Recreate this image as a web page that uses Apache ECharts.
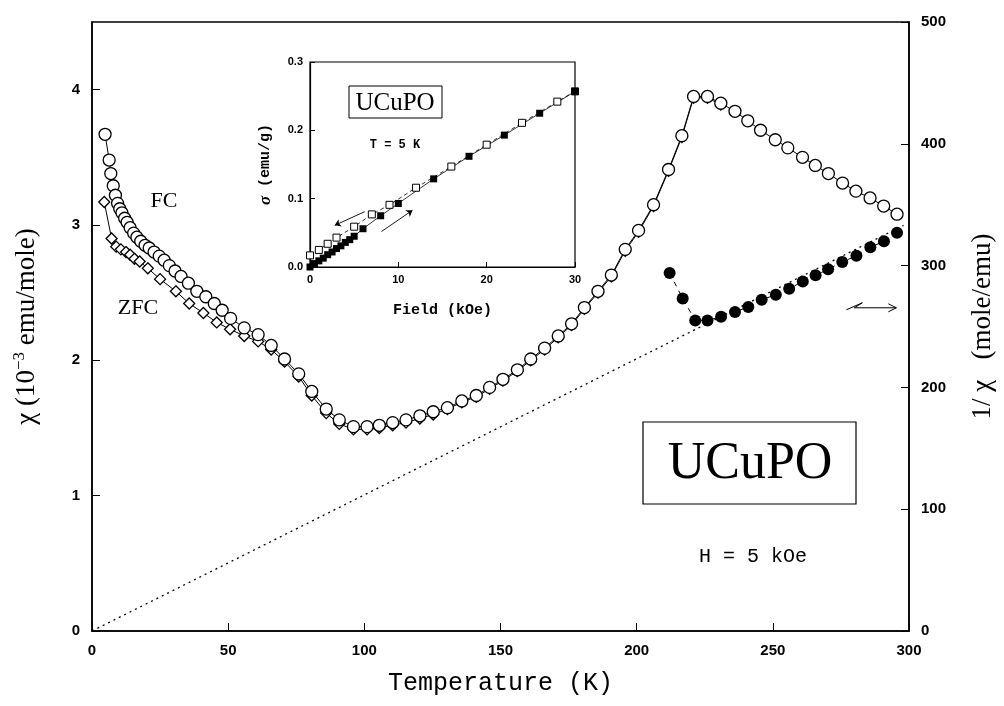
<!DOCTYPE html>
<html>
<head>
<meta charset="utf-8">
<script src="https://cdn.jsdelivr.net/npm/echarts@6/dist/echarts.min.js"></script>
<style>
html, body { margin: 0; background: #fff; }
#chart { width: 1004px; height: 706px; }
</style>
</head>
<body>
<div id="chart"></div>
<script>
// FC susceptibility (10^-3 emu/mole) vs temperature (K)
var fcT = [4.8, 6.3, 6.9, 7.8, 8.6, 9.4, 10.2, 11.0, 12.0, 12.9, 14.0, 15.3, 16.5, 17.9, 19.5, 21.0, 22.8, 24.7,
  26.5, 28.4, 30.5, 32.7, 35.4, 38.5, 41.8, 44.9, 47.8, 50.9, 55.9, 61.0, 65.8, 70.7, 75.9, 80.7, 86.0, 90.8,
  96.0, 101.0, 105.5, 110.4, 115.3, 120.4, 125.3, 130.5, 135.8, 141.1, 146.0, 150.9, 156.2, 161.1, 166.2,
  171.2, 176.1, 180.8, 185.8, 190.7, 195.8, 200.7, 206.2, 211.7, 216.6, 220.9, 226.0, 230.9, 236.1, 240.8,
  245.5, 250.9, 255.5, 260.9, 265.6, 270.4, 275.6, 280.5, 285.7, 290.7, 295.6];
var fcChi = [3.67, 3.48, 3.38, 3.29, 3.22, 3.16, 3.12, 3.09, 3.05, 3.02, 2.98, 2.94, 2.91, 2.88, 2.85, 2.83, 2.80, 2.77,
  2.74, 2.70, 2.66, 2.62, 2.57, 2.51, 2.47, 2.42, 2.37, 2.31, 2.24, 2.19, 2.11, 2.01, 1.90, 1.77, 1.64, 1.56,
  1.51, 1.51, 1.52, 1.54, 1.56, 1.59, 1.62, 1.65, 1.70, 1.74, 1.80, 1.86, 1.93, 2.01, 2.09,
  2.18, 2.27, 2.39, 2.51, 2.63, 2.82, 2.96, 3.15, 3.41, 3.66, 3.95, 3.95, 3.90, 3.84, 3.77,
  3.70, 3.63, 3.57, 3.50, 3.44, 3.38, 3.31, 3.25, 3.20, 3.14, 3.08];

// ZFC susceptibility
var zfcT = [4.5, 7.2, 8.9, 10.6, 12.5, 14.0, 15.6, 17.5, 20.5, 25.0, 30.8, 35.7, 40.9, 45.8, 50.7, 55.9, 61.0,
  65.8, 70.7, 75.9, 80.7, 86.0, 90.8, 96.0, 101.0, 105.5, 110.4, 115.3, 120.4, 125.3, 130.5, 135.8, 141.1,
  146.0, 150.9, 156.2, 161.1, 166.2, 171.2, 176.1, 180.8, 185.8, 190.7, 195.8, 200.7, 206.2, 211.7, 216.6,
  220.9, 226.0, 230.9];
var zfcChi = [3.17, 2.90, 2.84, 2.82, 2.80, 2.78, 2.75, 2.73, 2.68, 2.60, 2.51, 2.42, 2.35, 2.28, 2.23, 2.18, 2.14,
  2.08, 1.99, 1.88, 1.74, 1.61, 1.53, 1.49, 1.49, 1.50, 1.52, 1.54, 1.57, 1.60, 1.64, 1.69, 1.73,
  1.79, 1.85, 1.92, 2.00, 2.08, 2.17, 2.26, 2.38, 2.50, 2.62, 2.81, 2.95, 3.14, 3.40, 3.65,
  3.94, 3.94, 3.89];

// inverse susceptibility (mole/emu), right axis
var invT = [212.1, 216.9, 221.5, 226.0, 231.0, 236.1, 241.0, 245.9, 251.1, 256.0, 261.0, 265.7, 270.3, 275.5,
  280.7, 285.8, 290.8, 295.6];
var invChi = [294, 273, 255, 255, 258, 262, 266, 272, 276, 281, 287, 292, 297, 303, 308, 315, 320, 327];

// Curie-Weiss line (dotted)
var fitT = [0, 298];
var fitR = [0, 333];

// inset: magnetisation at 5 K
var upField = [0, 0.5, 1, 1.5, 2, 2.5, 3, 3.5, 4, 4.5, 5, 6, 8, 10, 14, 18, 22, 26, 30];
var upSigma = [0.000, 0.005, 0.009, 0.013, 0.018, 0.022, 0.027, 0.031, 0.036, 0.040, 0.045, 0.056, 0.075,
  0.093, 0.129, 0.162, 0.193, 0.225, 0.257];
var downField = [30, 28, 24, 20, 16, 12, 9, 7, 5, 3, 2, 1, 0];
var downSigma = [0.257, 0.242, 0.211, 0.179, 0.147, 0.116, 0.091, 0.077, 0.059, 0.043, 0.034, 0.025, 0.017];

function zip(a, b) {
  return a.map(function (v, i) { return [v, b[i]]; });
}

var black = '#000';
var tickFont = { color: black, fontFamily: 'Liberation Sans', fontWeight: 'bold', fontSize: 15 };
var insetFont = { color: black, fontFamily: 'Liberation Sans', fontWeight: 'bold', fontSize: 11 };

var chart = echarts.init(document.getElementById('chart'));

chart.setOption({
  animation: false,
  backgroundColor: '#fff',
  grid: [
    { left: 92, right: 92, top: 22, bottom: 75, show: true, borderColor: black, borderWidth: 1.5 },
    { left: 310, top: 62, width: 265, height: 205, show: true, borderColor: black, borderWidth: 1.2,
      backgroundColor: '#fff' }
  ],
  xAxis: [
    {
      type: 'value', gridIndex: 0, min: 0, max: 300, interval: 50,
      name: 'Temperature (K)', nameLocation: 'middle', nameGap: 40,
      nameTextStyle: { color: black, fontFamily: 'Liberation Mono', fontSize: 25 },
      axisLine: { lineStyle: { color: black, width: 1.5 } },
      axisTick: { inside: true, length: 8, lineStyle: { color: black } },
      axisLabel: Object.assign({ margin: 12 }, tickFont),
      splitLine: { show: false }
    },
    {
      type: 'value', gridIndex: 1, min: 0, max: 30, interval: 10,
      name: 'Field (kOe)', nameLocation: 'middle', nameGap: 36,
      nameTextStyle: { color: black, fontFamily: 'Liberation Mono', fontWeight: 'bold', fontSize: 15 },
      axisLine: { lineStyle: { color: black, width: 1.2 } },
      axisTick: { inside: true, length: 5, lineStyle: { color: black } },
      axisLabel: Object.assign({ margin: 7 }, insetFont),
      splitLine: { show: false }
    }
  ],
  yAxis: [
    {
      type: 'value', gridIndex: 0, position: 'left', min: 0, max: 4.5, interval: 1,
      name: '{t|χ (10}{s|−3}{t| emu/mole)}', nameLocation: 'middle', nameGap: 50, nameRotate: 90,
      nameTextStyle: {
        rich: {
          t: { color: black, fontFamily: 'Liberation Serif', fontSize: 27 },
          s: { color: black, fontFamily: 'Liberation Serif', fontSize: 17, verticalAlign: 'top', padding: [0, 0, 14, 0] }
        }
      },
      axisLine: { lineStyle: { color: black, width: 1.5 } },
      axisTick: { inside: true, length: 8, lineStyle: { color: black } },
      axisLabel: Object.assign({ margin: 12, showMaxLabel: false }, tickFont),
      splitLine: { show: false }
    },
    {
      type: 'value', gridIndex: 0, position: 'right', min: 0, max: 500, interval: 100,
      name: '1/ χ   (mole/emu)', nameLocation: 'middle', nameGap: 60, nameRotate: 90,
      nameTextStyle: { color: black, fontFamily: 'Liberation Serif', fontSize: 27 },
      axisLine: { show: true, lineStyle: { color: black, width: 1.5 } },
      axisTick: { show: true, inside: true, length: 8, lineStyle: { color: black } },
      axisLabel: Object.assign({ margin: 12 }, tickFont),
      splitLine: { show: false }
    },
    {
      type: 'value', gridIndex: 1, min: 0, max: 0.3, interval: 0.1,
      name: '{g|σ} (emu/g)', nameLocation: 'middle', nameGap: 36, nameRotate: 90,
      nameTextStyle: {
        color: black, fontFamily: 'Liberation Mono', fontWeight: 'bold', fontSize: 15,
        rich: { g: { color: black, fontFamily: 'Liberation Serif', fontStyle: 'italic', fontSize: 17 } }
      },
      axisLine: { lineStyle: { color: black, width: 1.2 } },
      axisTick: { inside: true, length: 5, lineStyle: { color: black } },
      axisLabel: Object.assign({ margin: 7, formatter: function (v) { return v.toFixed(1); } }, insetFont),
      splitLine: { show: false }
    }
  ],
  series: [
    {
      name: 'fit', type: 'line', xAxisIndex: 0, yAxisIndex: 1,
      data: zip(fitT, fitR), symbol: 'none', silent: true,
      lineStyle: { color: black, width: 1.3, type: [2, 4] }
    },
    {
      name: '1/chi', type: 'line', xAxisIndex: 0, yAxisIndex: 1,
      data: zip(invT, invChi), symbol: 'circle', symbolSize: 12,
      itemStyle: { color: black },
      lineStyle: { color: black, width: 1, type: [5, 5] }
    },
    {
      name: 'ZFC', type: 'line', xAxisIndex: 0, yAxisIndex: 0,
      data: zip(zfcT, zfcChi), symbol: 'diamond', symbolSize: 11,
      itemStyle: { color: '#fff', borderColor: black, borderWidth: 1.3 },
      lineStyle: { color: black, width: 1 }
    },
    {
      name: 'ZFC dot', type: 'scatter', xAxisIndex: 0, yAxisIndex: 0,
      data: zip(zfcT, zfcChi), symbolSize: 2, itemStyle: { color: black }
    },
    {
      name: 'FC', type: 'line', xAxisIndex: 0, yAxisIndex: 0,
      data: zip(fcT, fcChi), symbol: 'circle', symbolSize: 12,
      itemStyle: { color: '#fff', borderColor: black, borderWidth: 1.3 },
      lineStyle: { color: black, width: 1 }
    },
    {
      name: 'FC dot', type: 'scatter', xAxisIndex: 0, yAxisIndex: 0,
      data: zip(fcT, fcChi), symbolSize: 2, itemStyle: { color: black }
    },
    {
      name: 'down', type: 'line', xAxisIndex: 1, yAxisIndex: 2,
      data: zip(downField, downSigma), symbol: 'rect', symbolSize: 7,
      itemStyle: { color: '#fff', borderColor: black, borderWidth: 1 },
      lineStyle: { color: black, width: 0.8, type: [4, 3] }
    },
    {
      name: 'up', type: 'line', xAxisIndex: 1, yAxisIndex: 2,
      data: zip(upField, upSigma), symbol: 'rect', symbolSize: 7,
      itemStyle: { color: black },
      lineStyle: { color: black, width: 0.8 },
      markLine: {
        silent: true, symbol: ['none', 'arrow'], symbolSize: 6,
        label: { show: false },
        lineStyle: { color: black, width: 0.9, type: 'solid' },
        data: [
          [{ coord: [6.2, 0.081] }, { coord: [2.8, 0.061] }],
          [{ coord: [8.1, 0.052] }, { coord: [11.6, 0.083] }]
        ]
      }
    }
  ]
});

// squiggly arrow pointing at the right-hand axis
var a = chart.convertToPixel({ xAxisIndex: 0, yAxisIndex: 1 }, [277, 267]);
var ax = a[0], ay = a[1];

chart.setOption({
  graphic: [
    { type: 'polyline', shape: { points: [[ax, ay + 4], [ax + 16, ay - 3], [ax + 8, ay + 2], [ax + 50, ay + 2]] },
      style: { stroke: black, lineWidth: 1, fill: null } },
    { type: 'polyline', shape: { points: [[ax + 42, ay - 2], [ax + 50, ay + 2], [ax + 42, ay + 6]] },
      style: { stroke: black, lineWidth: 1, fill: null } },
    { type: 'rect', shape: { x: 643, y: 422, width: 213, height: 82 },
      style: { fill: '#fff', stroke: black, lineWidth: 1.2 } },
    { type: 'text', x: 750, y: 464,
      style: { text: 'UCuPO', fill: black, font: '52px "Liberation Serif"', align: 'center', verticalAlign: 'middle' } },
    { type: 'text', x: 753, y: 557,
      style: { text: 'H = 5 kOe', fill: black, font: '20px "Liberation Mono"', align: 'center', verticalAlign: 'middle' } },
    { type: 'text', x: 164, y: 201,
      style: { text: 'FC', fill: black, font: '22px "Liberation Serif"', align: 'center', verticalAlign: 'middle' } },
    { type: 'text', x: 138, y: 308,
      style: { text: 'ZFC', fill: black, font: '22px "Liberation Serif"', align: 'center', verticalAlign: 'middle' } },
    { type: 'rect', shape: { x: 349, y: 86, width: 93, height: 32 },
      style: { fill: '#fff', stroke: black, lineWidth: 1 } },
    { type: 'text', x: 395, y: 103,
      style: { text: 'UCuPO', fill: black, font: '25px "Liberation Serif"', align: 'center', verticalAlign: 'middle' } },
    { type: 'text', x: 395, y: 145,
      style: { text: 'T = 5 K', fill: black, font: 'bold 12px "Liberation Mono"', align: 'center', verticalAlign: 'middle' } }
  ]
});
</script>
</body>
</html>
